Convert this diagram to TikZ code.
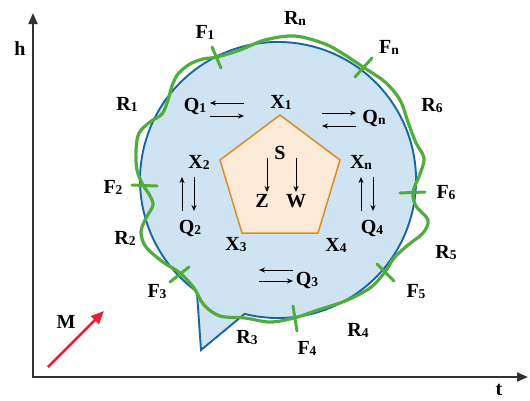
\documentclass[tikz,border=0pt]{standalone}
\usepackage{fontspec}
\setmainfont{Liberation Serif}
\usetikzlibrary{arrows.meta,calc}
\definecolor{fillblue}{RGB}{206,228,242}
\definecolor{lineblue}{RGB}{25,100,165}
\definecolor{grn}{RGB}{80,172,60}
\definecolor{peach}{RGB}{252,233,214}
\definecolor{orng}{RGB}{220,140,40}
\definecolor{axgray}{RGB}{50,50,50}
\definecolor{mred}{RGB}{232,32,58}
\newcommand\lbl[2]{#1{\fontsize{13.5}{13.5}\selectfont\raisebox{-1pt}{#2}}}
\begin{document}
\begin{tikzpicture}[x=1pt,y=-1pt,
  lab/.style={font=\fontsize{20}{20}\selectfont\bfseries, inner sep=0pt},
  qarr/.style={-{Stealth[length=6pt,width=5pt]}, line width=1pt, black},
  axisline/.style={{Triangle[length=11pt,width=9pt]}-{Triangle[length=11pt,width=9pt]}, line width=2pt, axgray, line join=miter},
  tickmark/.style={grn, line width=3pt, line cap=round},
  greenline/.style={grn, line width=3.2pt},
  blueshape/.style={fill=fillblue, draw=lineblue, line width=1.9pt, line join=miter},
  pentagon/.style={draw=orng, fill=peach, line width=1.5pt, line join=miter},
  marrow/.style={-{Triangle[length=13pt,width=11pt]}, mred, line width=2.5pt}]
\useasboundingbox (0,0) rectangle (530,400);

% axes
\coordinate (o) at (33,377);
\coordinate (ytip) at (33,13);
\coordinate (xtip) at (528,377);
\draw[axisline] (ytip) -- (o) -- (xtip);
\node[lab] (h) at (20,49) {h};
\node[lab] (t) at (499,390) {t};

% blue region
\coordinate (c) at (278,180);
\path (c) ++(104:138) coordinate (j1);
\coordinate (tail) at (201,350);
\path[blueshape] (j1) arc[start angle=104, end angle=-234, radius=138] -- (tail) -- cycle;

% green wavy boundary
\draw[greenline] plot[smooth cycle, tension=0.55] coordinates {
 (217,57) (240,50) (265,40) (295,36) (325,44) (345,55) (363,67)
 (385,82) (400,100) (408,122) (416,143) (424,158) (420,174) (413,192)
 (416,206) (428,220) (423,233) (408,245) (394,258) (385,272)
 (370,288) (345,301) (318,310) (294,318) (270,322) (245,318) (220,316)
 (204,305) (194,288) (180,273) (163,262) (146,247) (141,232) (146,218)
 (153,205) (149,194) (143,185) (137,170) (136,150) (139,133) (150,122)
 (162,114) (168,100) (172,86) (178,74) (190,64) (203,59)};

% tick marks
\draw[tickmark] (212,47) -- (221,68);
\draw[tickmark] (372,58) -- (355,77);
\draw[tickmark] (400,193) -- (425,192);
\draw[tickmark] (132,185) -- (157,186);
\draw[tickmark] (170,282) -- (189,267);
\draw[tickmark] (293,306) -- (297,331);
\draw[tickmark] (377,264) -- (394,281);

% pentagon
\coordinate (p1) at (280,115);
\coordinate (p2) at (340,160);
\coordinate (p3) at (318,233);
\coordinate (p4) at (242,233);
\coordinate (p5) at (220,160);
\draw[pentagon] (p1) -- (p2) -- (p3) -- (p4) -- (p5) -- cycle;

% labels
\node[lab] (F1) at (205,32) {\lbl{F}{1}};
\node[lab] (Rn) at (295,18) {\lbl{R}{n}};
\node[lab] (Fn) at (389,47) {\lbl{F}{n}};
\node[lab] (R1) at (127,104) {\lbl{R}{1}};
\node[lab] (R6) at (432,106) {\lbl{R}{6}};
\node[lab] (Q1) at (195,106) {\lbl{Q}{1}};
\node[lab] (X1) at (281,102) {\lbl{X}{1}};
\node[lab] (Qn) at (374,118) {\lbl{Q}{n}};
\node[lab] (X2) at (199,162) {\lbl{X}{2}};
\node[lab] (Xn) at (361,162) {\lbl{X}{n}};
\node[lab] (S) at (280,153) {S};
\node[lab] (F2) at (113,187) {\lbl{F}{2}};
\node[lab] (F6) at (446,193) {\lbl{F}{6}};
\node[lab] (Z) at (262,201) {Z};
\node[lab] (W) at (296,201) {W};
\node[lab] (Q2) at (190,228) {\lbl{Q}{2}};
\node[lab] (Q4) at (372,228) {\lbl{Q}{4}};
\node[lab] (R2) at (125,238) {\lbl{R}{2}};
\node[lab] (X3) at (236,245) {\lbl{X}{3}};
\node[lab] (X4) at (336,245) {\lbl{X}{4}};
\node[lab] (R5) at (446,253) {\lbl{R}{5}};
\node[lab] (Q3) at (307,280) {\lbl{Q}{3}};
\node[lab] (F3) at (157,292) {\lbl{F}{3}};
\node[lab] (F5) at (416,292) {\lbl{F}{5}};
\node[lab] (M) at (66,322) {M};
\node[lab] (R4) at (358,330) {\lbl{R}{4}};
\node[lab] (R3) at (247,338) {\lbl{R}{3}};
\node[lab] (F4) at (307,348) {\lbl{F}{4}};

% exchange arrows
\coordinate (a1) at (244,103); \coordinate (a2) at (210,103);
\coordinate (a3) at (210,116); \coordinate (a4) at (244,116);
\draw[qarr] (a1) -- (a2); \draw[qarr] (a3) -- (a4);
\coordinate (b1) at (322,113); \coordinate (b2) at (356,113);
\coordinate (b3) at (356,126); \coordinate (b4) at (322,126);
\draw[qarr] (b1) -- (b2); \draw[qarr] (b3) -- (b4);
\coordinate (c1) at (182,211); \coordinate (c2) at (182,177);
\coordinate (c3) at (194,177); \coordinate (c4) at (194,211);
\draw[qarr] (c1) -- (c2); \draw[qarr] (c3) -- (c4);
\coordinate (d1) at (361,211); \coordinate (d2) at (361,177);
\coordinate (d3) at (373,177); \coordinate (d4) at (373,211);
\draw[qarr] (d1) -- (d2); \draw[qarr] (d3) -- (d4);
\coordinate (e1) at (293,270); \coordinate (e2) at (259,270);
\coordinate (e3) at (259,281); \coordinate (e4) at (293,281);
\draw[qarr] (e1) -- (e2); \draw[qarr] (e3) -- (e4);
% S to Z and W
\coordinate (s1) at (267,158); \coordinate (s2) at (267,192);
\coordinate (s3) at (296,158); \coordinate (s4) at (296,192);
\draw[qarr] (s1) -- (s2); \draw[qarr] (s3) -- (s4);

% M arrow
\coordinate (m1) at (48,367); \coordinate (m2) at (104,311);
\draw[marrow] (m1) -- (m2);
\end{tikzpicture}
\end{document}
